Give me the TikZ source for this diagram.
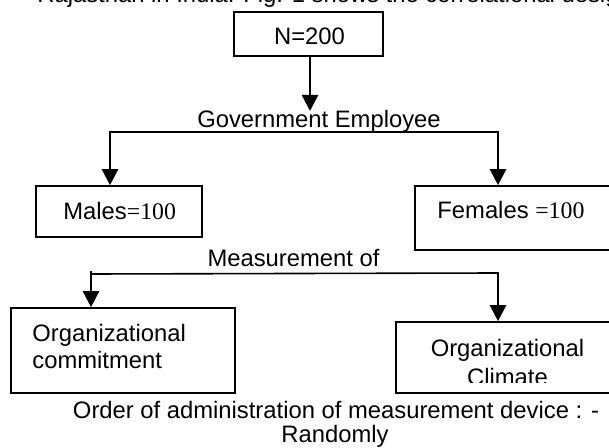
\documentclass[tikz,border=0pt]{standalone}
\usepackage{fontspec}
\setmainfont{Liberation Sans}
\newfontfamily\tmsfont{Liberation Serif}
\usetikzlibrary{arrows.meta}
\tikzset{
  boxs/.style={draw, line width=0.8pt, inner sep=0pt, rectangle},
  txt/.style={inner sep=0pt, font=\fontsize{11.9}{14}\selectfont},
  arr/.style={line width=1.2pt, -{Triangle[width=8pt,length=8pt]}},
  lin/.style={line width=0.8pt}
}
\begin{document}
\begin{tikzpicture}[x=0.5pt,y=-0.5pt]
\useasboundingbox (0,0) rectangle (609,448);
\clip (0,0) rectangle (609,448);
% top cut text
\node[txt, anchor=base west] (toptext) at (37,3) {Rajasthan in India. Fig. 1 shows the correlational design of the study.};
% boxes
\node[boxs, minimum width=74.5pt, minimum height=22pt] (n) at (308.5,34) {};
\node[txt, anchor=base] (nlbl) at (309.5,45) {N=200};
\node[txt, anchor=base] (gov) at (319,128) {Government Employee};
\node[boxs, minimum width=83pt, minimum height=25.5pt] (males) at (119,211.5) {};
\node[txt, anchor=base west] (maleslbl) at (63,220) {Males{\tmsfont=100}};
\node[boxs, minimum width=105pt, minimum height=32pt] (females) at (520,218) {};
\node[txt, anchor=base west] (femaleslbl) at (437,219) {Females {\tmsfont=100}};
\node[txt, anchor=base] (meas) at (293.5,267) {Measurement of};
\node[boxs, minimum width=112pt, minimum height=42.5pt] (oc) at (123,350.5) {};
\node[txt, anchor=base west] (oclbl1) at (32,341) {Organizational};
\node[txt, anchor=base west] (oclbl2) at (32,368) {commitment};
\node[boxs, minimum width=115pt, minimum height=35.5pt] (ocl) at (511,357.5) {};
\node[txt, anchor=base] (ocllbl1) at (507.5,356) {Organizational};
\begin{scope}
\clip (396,360) rectangle (609,382.5);
\node[txt, anchor=base] (ocllbl2) at (507.5,385) {Climate};
\end{scope}
\node[txt, anchor=base] (order) at (336,418) {Order of administration of measurement device : -};
\node[txt, anchor=base] (rand) at (335,442) {Randomly};
% connectors
\coordinate (gtip) at (310,111);
\draw[arr] (n.south -| gtip) -- (gtip);
\coordinate (gl) at (110,132);
\coordinate (gr) at (498,132);
\draw[lin] (gl) -- (gr);
\draw[arr] ([yshift=0.4pt]gl) -- (gl |- males.north);
\draw[arr] ([yshift=0.4pt]gr) -- (gr |- females.north);
\coordinate (ml) at (91,274);
\coordinate (mr) at (498,273);
\draw[lin] (ml) -- (mr);
\draw[arr] (91,271.5) -- (ml |- oc.north);
\draw[arr] ([yshift=0.4pt]mr) -- (mr |- ocl.north);
\end{tikzpicture}
\end{document}
